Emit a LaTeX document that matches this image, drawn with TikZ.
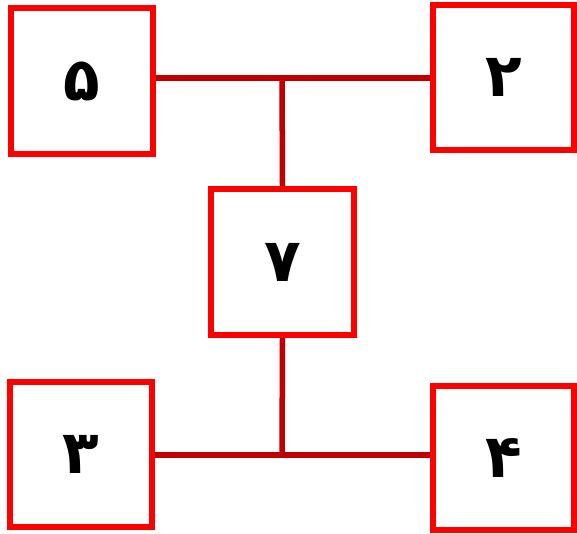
\documentclass[tikz,border=0pt]{standalone}
\usepackage{fontspec}
\newfontfamily\arabicfont[Script=Arabic]{DejaVu Sans}
\definecolor{boxred}{HTML}{FF0000}
\definecolor{linkred}{HTML}{C00000}
\begin{document}
\begin{tikzpicture}[x=1pt,y=-1pt,
  box/.style={draw=boxred, line width=6pt, fill=white, inner sep=0pt,
    minimum width=142pt, minimum height=146pt,
    font=\arabicfont\bfseries\fontsize{60}{60}\selectfont},
  link/.style={draw=linkred, line width=5.5pt}]
\useasboundingbox (0,0) rectangle (577,534);
\node[box] (b5) at (81.5,81.5) {۵};
\node[box, minimum width=141pt, minimum height=145pt] (b2) at (503.5,77.5) {۲};
\node[box, minimum width=143pt] (b7) at (282.5,262) {۷};
\node[box, minimum height=145pt] (b3) at (81,454.5) {۳};
\node[box, minimum width=141pt, minimum height=144pt] (b4) at (503.5,458) {۴};
\coordinate (j1) at (282,78);
\coordinate (j2) at (282,455);
\draw[link] (j1 -| b5.east) -- (j1 -| b2.west);
\draw[link] (j1) -- (b7.north);
\draw[link] (b7.south) -- (j2);
\draw[link] (j2 -| b3.east) -- (j2 -| b4.west);
\end{tikzpicture}
\end{document}
